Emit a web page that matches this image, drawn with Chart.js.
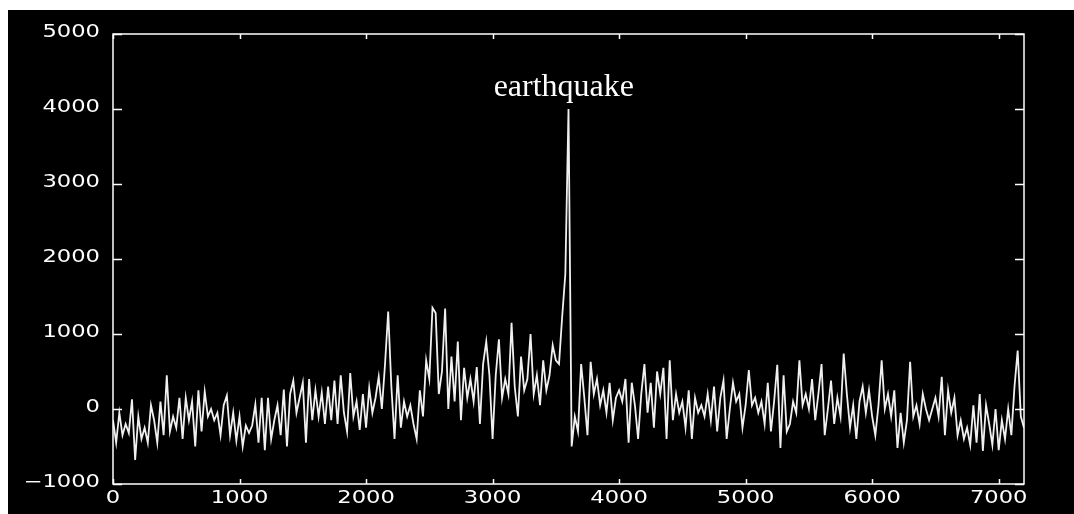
<!DOCTYPE html>
<html>
<head>
<meta charset="utf-8">
<script src="https://cdn.jsdelivr.net/npm/chart.js@4.4.1/dist/chart.umd.min.js"></script>
<style>
  html, body { margin: 0; padding: 0; background: #fff; }
  #wrap { width: 1074px; height: 514px; }
</style>
</head>
<body>
<div id="wrap"><canvas id="c" width="1074" height="514"></canvas></div>
<script>
// ---- data ----
const sampleStep = 25; // x spacing of samples
const signal = [
  -150,-450,-50,-350,-200,-320,130,-680,-100,-400,-250,-450,50,-150,-450,100,-350,450,-300,-100,
  -250,150,-400,150,-150,100,-500,250,-300,230,-100,0,-150,-50,-350,50,180,-350,-50,-420,
  -100,-500,-220,-320,-220,60,-450,150,-550,
  150,-400,-150,50,-350,260,-500,200,380,-50,150,350,-450,400,-150,250,-100,220,-200,300,
  -150,380,-200,450,-50,-300,480,-100,100,-280,200,-250,280,-50,150,430,0,600,1300,300,
  -400,450,-250,100,-100,50,-200,-400,
  250,-100,650,400,1350,1280,200,500,1340,0,700,100,900,-150,550,150,400,100,560,-200,
  600,900,450,-400,450,930,150,400,200,1150,300,-100,700,250,400,1000,200,450,50,650,
  250,450,850,650,600,1230,1800,4000,
  -500,-100,-300,600,150,-350,630,200,400,50,250,-50,350,-150,150,250,100,400,-450,350,
  50,-400,200,600,-50,350,-250,500,200,550,-400,650,-150,200,-50,100,-250,250,-400,150,
  -50,50,-100,200,-150,300,-300,150,
  380,-400,0,350,100,200,-250,50,520,50,150,-50,100,-200,350,-300,100,590,-520,450,
  -300,-200,100,-50,650,50,200,0,400,-150,200,600,-350,0,380,-200,150,-100,740,200,
  -250,50,-400,100,300,-50,250,-100,
  -350,50,650,0,200,-100,250,-520,-50,-450,-150,630,-100,50,-200,200,0,-150,0,150,
  -100,430,-350,250,-50,150,-350,-150,-400,-250,-480,50,-450,200,-560,50,-200,-480,0,-550,
  -150,-400,0,-350,300,780,-100,-250
];
const xTicks = [0,1000,2000,3000,4000,5000,6000,7000];
const xTickLabels = ['0','1000','2000','3000','4000','5000','6000','7000'];
const yTicks = [-1000,0,1000,2000,3000,4000,5000];
const yTickLabels = ['\u22121000','0','1000','2000','3000','4000','5000'];
const annotationText = 'earthquake';
const annotationAt = { x: 3563, y: 4173 };

const points = signal.map((v, i) => ({ x: i * sampleStep, y: v }));

function stretchedText(ctx, str, px, py, align, sx) {
  const w = ctx.measureText(str).width * sx;
  let left = px;
  if (align === 'center') left = px - w / 2;
  else if (align === 'right') left = px - w;
  ctx.save();
  ctx.translate(left, py);
  ctx.scale(sx, 1);
  ctx.textAlign = 'left';
  ctx.fillText(str, 0, 0);
  ctx.restore();
}

const framePlugin = {
  id: 'frame',
  beforeDraw(chart) {
    const c = chart.ctx;
    c.save();
    c.fillStyle = '#ffffff';
    c.fillRect(0, 0, chart.width, chart.height);
    c.fillStyle = '#000000';
    c.fillRect(8, 10, chart.width - 8, chart.height - 10);
    c.restore();
  },
  afterDatasetsDraw(chart) {
    const { ctx, chartArea: a, scales: { x, y } } = chart;
    ctx.save();
    ctx.strokeStyle = '#ffffff';
    ctx.lineWidth = 1.5;
    ctx.strokeRect(a.left, a.top, a.right - a.left, a.bottom - a.top);
    const seg = (x1, y1, x2, y2) => { ctx.beginPath(); ctx.moveTo(x1, y1); ctx.lineTo(x2, y2); ctx.stroke(); };
    yTicks.forEach(v => {
      const p = Math.round(y.getPixelForValue(v)) + 0.5;
      seg(a.left, p, a.left + 9, p);
      seg(a.right, p, a.right - 9, p);
    });
    xTicks.forEach(v => {
      const p = Math.round(x.getPixelForValue(v)) + 0.5;
      seg(p, a.bottom, p, a.bottom - 5);
      seg(p, a.top, p, a.top + 5);
    });
    ctx.fillStyle = '#ffffff';
    ctx.font = '17px "DejaVu Sans"';
    ctx.textBaseline = 'middle';
    yTicks.forEach((v, i) => {
      stretchedText(ctx, yTickLabels[i], a.left - 13, y.getPixelForValue(v) - 1, 'right', 1.33);
    });
    xTicks.forEach((v, i) => {
      stretchedText(ctx, xTickLabels[i], x.getPixelForValue(v), a.bottom + 15, 'center', 1.33);
    });
    ctx.font = '32px "Liberation Serif"';
    ctx.textBaseline = 'alphabetic';
    ctx.textAlign = 'center';
    ctx.fillText(annotationText, x.getPixelForValue(annotationAt.x), y.getPixelForValue(annotationAt.y));
    ctx.restore();
  }
};

new Chart(document.getElementById('c'), {
  type: 'line',
  data: {
    datasets: [{
      data: points,
      borderColor: '#f0f0f0',
      borderWidth: 1.8,
      pointRadius: 0,
      tension: 0,
      fill: false
    }]
  },
  options: {
    responsive: false,
    animation: false,
    devicePixelRatio: 1,
    layout: { padding: { left: 113, top: 34, right: 50, bottom: 30 } },
    plugins: { legend: { display: false }, tooltip: { enabled: false } },
    scales: {
      x: { type: 'linear', min: 0, max: 7200, display: false },
      y: { type: 'linear', min: -1000, max: 5000, display: false }
    }
  },
  plugins: [framePlugin]
});
</script>
</body>
</html>
